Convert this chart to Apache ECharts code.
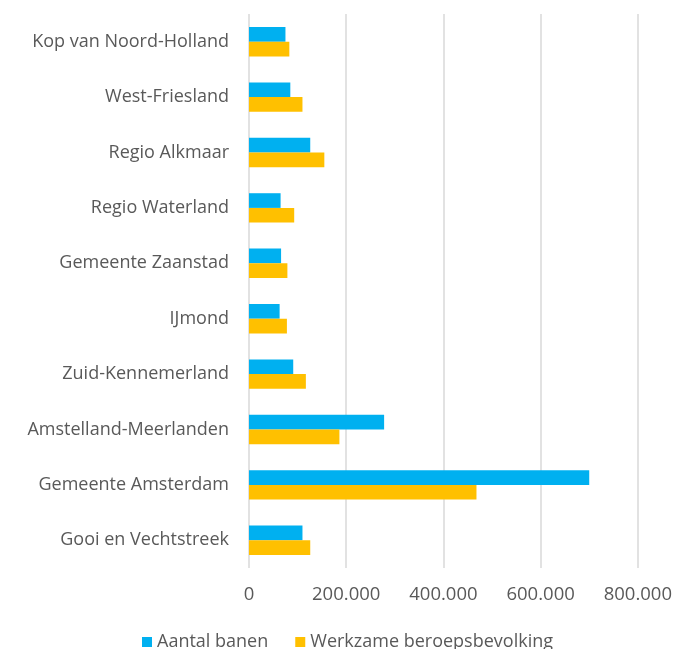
<!DOCTYPE html>
<html><head><meta charset="utf-8">
<script src="https://cdn.jsdelivr.net/npm/echarts@6/dist/echarts.min.js"></script>
<style>html,body{margin:0;padding:0;background:#fff}#c{width:675px;height:649px}</style>
</head><body><div id="c"></div>
<script>
const categories = ["Kop van Noord-Holland","West-Friesland","Regio Alkmaar","Regio Waterland","Gemeente Zaanstad","IJmond","Zuid-Kennemerland","Amstelland-Meerlanden","Gemeente Amsterdam","Gooi en Vechtstreek"];
const aantalBanen = [75000,85000,126000,65000,66000,63000,91000,278000,700000,110000];
const werkzameBeroepsbevolking = [83000,110000,155000,93000,79000,78000,117000,186000,468000,126000];
const xTicks = [0,200000,400000,600000,800000];

const fmt = v => v === 0 ? '0' : (v/1000).toFixed(0) + '.000';
const font = '"Open Sans", sans-serif';
const chart = echarts.init(document.getElementById('c'));
chart.setOption({
  animation: false,
  textStyle: {fontFamily: font},
  grid: {left: 249, right: 35, top: 14, bottom: 81, containLabel: false},
  legend: {
    bottom: -7, left: 137, itemWidth: 10, itemHeight: 10, itemGap: 27, icon: 'rect',
    textStyle: {fontSize: 18, color: '#595959', fontFamily: font},
    data: ['Aantal banen','Werkzame beroepsbevolking']
  },
  xAxis: {
    type: 'value', min: xTicks[0], max: xTicks[xTicks.length-1], interval: 200000,
    axisLine: {show: false}, axisTick: {show: false},
    splitLine: {show: true, lineStyle: {color: '#d9d9d9', width: 1.5}},
    axisLabel: {formatter: fmt, fontSize: 18.5, color: '#595959', margin: 17, fontFamily: font}
  },
  yAxis: {
    type: 'category', data: categories, inverse: true,
    axisLine: {show: false}, axisTick: {show: false},
    axisLabel: {fontSize: 18, color: '#595959', margin: 20, fontFamily: font}
  },
  series: [
    {name: 'Aantal banen', type: 'bar', data: aantalBanen, itemStyle: {color: '#00B0F0'}, barGap: '0%', barCategoryGap: '47%'},
    {name: 'Werkzame beroepsbevolking', type: 'bar', data: werkzameBeroepsbevolking, itemStyle: {color: '#FFC000'}, barGap: '0%', barCategoryGap: '47%'}
  ]
});
</script></body></html>
